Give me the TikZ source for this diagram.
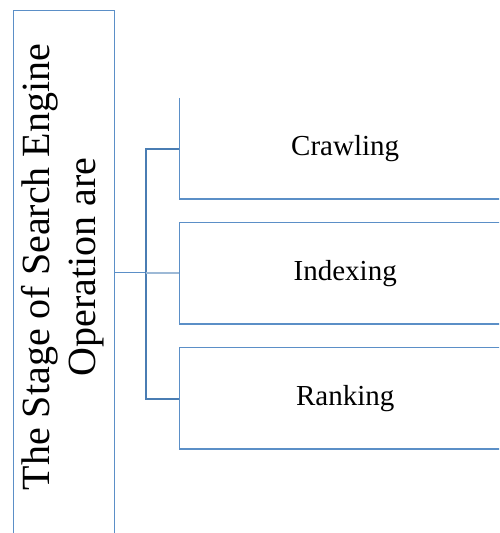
\documentclass[tikz,border=0pt]{standalone}
\usepackage{fontspec}
\setmainfont{LiberationSerif}[Extension=.ttf, UprightFont=*-Regular,
  BoldFont=*-Bold, ItalicFont=*-Italic, BoldItalicFont=*-BoldItalic]
\definecolor{lineblue}{HTML}{5B8FC7}
\definecolor{darkblue}{HTML}{4A7DB3}
\definecolor{tieblue}{HTML}{9DB9D6}
\begin{document}
\begin{tikzpicture}[x=1pt,y=1pt,
  stagebox/.style={draw=none, minimum width=332pt, minimum height=101pt,
    inner sep=0pt, anchor=north west, font=\rmfamily\fontsize{29}{32}\selectfont},
  edge/.style={draw=lineblue, line width=1pt},
  base/.style={draw=lineblue, line width=2pt},
  bracket/.style={draw=darkblue, line width=2pt},
  tie/.style={draw=tieblue, line width=1.2pt}]
\useasboundingbox (0,0) rectangle (499,533);
\clip (0,0) rectangle (499,533);

% title box with its rotated two-line label
\node[draw=lineblue, line width=1pt, minimum width=101pt, minimum height=545pt,
      inner sep=0pt, anchor=north west] (stage) at (13,523) {};
\node[rotate=90, align=center, font=\rmfamily\fontsize{40}{46}\selectfont] (stagetxt)
      at (63,266) {The Stage of Search Engine\\Operation are};

% the three stages
\node[stagebox] (crawl) at (179,435) {Crawling};
\node[stagebox] (index) at (179,310) {Indexing};
\node[stagebox] (rank)  at (179,185) {Ranking};

\draw[edge] (crawl.north west) -- (crawl.south west);
\draw[base] (crawl.south west) -- (crawl.south east);
\foreach \b in {index,rank}{
  \draw[edge] (\b.south west) -- (\b.north west) -- (\b.north east);
  \draw[base] (\b.south west) -- (\b.south east);
}

% connectors
\coordinate (hub) at (146,260);
\draw[edge] (stage.east |- hub) -- (hub);
\draw[bracket] (crawl.west) -| (hub |- rank.west) -- (rank.west);
\draw[tie] (hub) -- (hub -| index.west);
\end{tikzpicture}
\end{document}
